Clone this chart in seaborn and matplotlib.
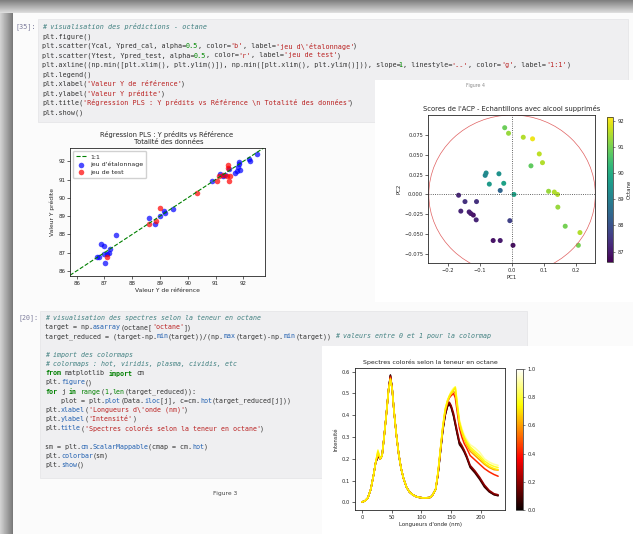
import re
import matplotlib
matplotlib.use("Agg")
import matplotlib.pyplot as plt
from matplotlib import cm
from matplotlib.patches import Rectangle, Ellipse
from matplotlib.colors import Normalize
import numpy as np
import seaborn as sns

# ---- Regression PLS : reference vs predit
ycal_ref = [86.72, 86.80, 86.89, 86.98, 86.98, 87.01, 87.10, 87.18, 87.20, 87.42,
            88.60, 88.83, 89.00, 89.13, 89.17, 89.45, 90.86, 91.16, 91.26, 91.34,
            91.47, 91.70, 91.76, 91.81, 91.83, 91.86, 91.88, 92.22, 92.24, 92.48]
ycal_pred = [86.77, 86.77, 87.45, 87.38, 86.90, 86.42, 86.90, 86.97, 87.19, 87.96,
             88.92, 88.57, 89.03, 89.28, 89.19, 89.38, 90.90, 91.30, 91.17, 91.27,
             91.58, 91.36, 91.45, 91.71, 91.87, 91.96, 91.54, 92.11, 92.00, 92.40]
ytest_ref = [87.10, 88.62, 88.86, 89.00, 90.32, 91.04, 91.14, 91.26, 91.40, 91.45,
             91.45, 91.47, 91.52]
ytest_pred = [86.77, 88.57, 88.75, 89.47, 90.28, 90.95, 91.21, 91.27, 91.17, 91.78,
              91.63, 90.94, 91.17]

# ---- Scores de l'ACP
pc1 = [-0.023, -0.011, 0.035, 0.064, 0.085, 0.095, 0.059, -0.081, -0.084, -0.041,
       -0.026, -0.071, -0.037, 0.006, 0.114, 0.132, 0.142, 0.143, 0.166, 0.212,
       0.207, -0.167, -0.147, -0.111, -0.160, -0.134, -0.129, -0.121, -0.112, -0.007,
       -0.059, -0.037, 0.003]
pc2 = [0.084, 0.077, 0.072, 0.070, 0.051, 0.040, 0.036, 0.027, 0.024, 0.026,
       0.014, 0.013, 0.005, 0.000, 0.004, 0.003, 0.000, -0.016, -0.040, -0.048,
       -0.064, -0.001, -0.009, -0.009, -0.021, -0.022, -0.024, -0.026, -0.032, -0.033,
       -0.058, -0.058, -0.064]
octane_acp = [90.9, 91.3, 91.5, 92.0, 91.6, 91.5, 90.8, 89.3, 89.2, 89.4,
              89.8, 89.6, 88.4, 89.8, 91.3, 91.5, 91.5, 91.3, 91.0, 91.5,
              91.0, 87.2, 87.4, 87.4, 87.2, 87.1, 87.0, 86.9, 87.2, 87.7,
              86.9, 87.0, 86.8]

# ---- Spectres colores selon la teneur en octane
wl_left = [0, 5, 10, 15, 20, 23, 27, 31, 34, 37, 41, 45, 48, 51, 54, 58, 62, 66,
           70, 75, 80, 85, 90, 96, 102, 108, 114, 118, 121]
int_left = [0.002, 0.006, 0.02, 0.06, 0.13, 0.18, 0.225, 0.20, 0.215, 0.29, 0.40,
            0.52, 0.575, 0.52, 0.42, 0.31, 0.22, 0.155, 0.11, 0.07, 0.048, 0.036,
            0.028, 0.023, 0.021, 0.021, 0.022, 0.030, 0.045]
wl_right = [124, 128, 132, 136, 140, 144, 147, 150, 154, 157, 160, 164, 168, 172,
            176, 182, 190, 198, 206, 214, 222, 229]
target_reduced = [0.0, 0.08, 0.2, 0.42, 0.6, 0.72, 0.78, 0.9]
shoulder = [0.210, 0.212, 0.215, 0.220, 0.228, 0.232, 0.238, 0.242]
peak = [0.585, 0.583, 0.580, 0.575, 0.570, 0.566, 0.562, 0.558]
int_right = [
    [0.06, 0.13, 0.23, 0.33, 0.40, 0.445, 0.455, 0.44, 0.40, 0.36, 0.32, 0.27, 0.255, 0.235, 0.21, 0.165, 0.14, 0.11, 0.075, 0.05, 0.036, 0.032],
    [0.06, 0.13, 0.23, 0.33, 0.40, 0.44, 0.45, 0.435, 0.395, 0.355, 0.315, 0.265, 0.25, 0.23, 0.205, 0.16, 0.135, 0.105, 0.07, 0.048, 0.035, 0.030],
    [0.06, 0.13, 0.235, 0.335, 0.405, 0.45, 0.46, 0.445, 0.41, 0.37, 0.33, 0.28, 0.262, 0.24, 0.215, 0.17, 0.145, 0.115, 0.08, 0.055, 0.04, 0.035],
    [0.06, 0.135, 0.24, 0.34, 0.415, 0.46, 0.48, 0.49, 0.50, 0.48, 0.42, 0.34, 0.30, 0.27, 0.25, 0.215, 0.195, 0.175, 0.155, 0.14, 0.128, 0.12],
    [0.06, 0.135, 0.24, 0.345, 0.42, 0.465, 0.485, 0.50, 0.51, 0.50, 0.44, 0.36, 0.32, 0.29, 0.265, 0.235, 0.215, 0.195, 0.175, 0.16, 0.15, 0.148],
    [0.06, 0.14, 0.24, 0.345, 0.425, 0.465, 0.485, 0.50, 0.515, 0.525, 0.45, 0.365, 0.325, 0.295, 0.272, 0.245, 0.225, 0.205, 0.18, 0.165, 0.155, 0.150],
    [0.06, 0.14, 0.245, 0.35, 0.43, 0.47, 0.49, 0.505, 0.52, 0.53, 0.46, 0.37, 0.33, 0.30, 0.28, 0.255, 0.235, 0.215, 0.19, 0.175, 0.165, 0.160],
    [0.06, 0.14, 0.245, 0.35, 0.43, 0.47, 0.49, 0.51, 0.525, 0.53, 0.47, 0.38, 0.34, 0.31, 0.29, 0.265, 0.25, 0.23, 0.20, 0.185, 0.175, 0.170],
]
draw_order = [7, 0, 1, 2, 3, 4, 6, 5]

# ---- texte des cellules du notebook
code1 = [
    "# visualisation des prédictions - octane",
    "plt.figure()",
    "plt.scatter(Ycal, Ypred_cal, alpha=0.5, color='b', label='jeu d\\'étalonnage')",
    "plt.scatter(Ytest, Ypred_test, alpha=0.5, color='r', label='jeu de test')",
    "plt.axline((np.min([plt.xlim(), plt.ylim()]), np.min([plt.xlim(), plt.ylim()])), slope=1, linestyle='--', color='g', label='1:1')",
    "plt.legend()",
    "plt.xlabel('Valeur Y de référence')",
    "plt.ylabel('Valeur Y prédite')",
    "plt.title('Régression PLS : Y prédits vs Référence \\n Totalité des données')",
    "plt.show()",
]
code2 = [
    "# visualisation des spectres selon la teneur en octane",
    "target = np.asarray(octane['octane'])",
    "target_reduced = (target-np.min(target))/(np.max(target)-np.min(target)) # valeurs entre 0 et 1 pour la colormap",
    "",
    "# import des colormaps",
    "# colormaps : hot, viridis, plasma, cividis, etc",
    "from matplotlib import cm",
    "plt.figure()",
    "for j in range(1,len(target_reduced)):",
    "    plot = plt.plot(Data.iloc[j], c=cm.hot(target_reduced[j]))",
    "plt.xlabel('Longueurs d\\'onde (nm)')",
    "plt.ylabel('Intensité')",
    "plt.title('Spectres colorés selon la teneur en octane')",
    "",
    "sm = plt.cm.ScalarMappable(cmap = cm.hot)",
    "plt.colorbar(sm)",
    "plt.show()",
]

sns.set_style("ticks")
plt.rcParams['font.family'] = ['DejaVu Sans']
plt.rcParams['axes.linewidth'] = 0.6
plt.rcParams['xtick.major.size'] = 2
plt.rcParams['ytick.major.size'] = 2
plt.rcParams['xtick.major.width'] = 0.5
plt.rcParams['ytick.major.width'] = 0.5
plt.rcParams['xtick.major.pad'] = 1.5
plt.rcParams['ytick.major.pad'] = 1.5

W, H = 633, 534
fig = plt.figure(figsize=(W / 100, H / 100), dpi=100)
fig.patch.set_facecolor('#fbfbfb')

# fond : page, ombres, cellules de code (coordonnees en pixels)
bg = fig.add_axes([0, 0, 1, 1], zorder=-10)
bg.imshow(np.linspace(0.5, 0.86, 13).reshape(-1, 1), extent=(0, W, 13, 0),
          cmap='gray', vmin=0, vmax=1, aspect='auto')
bg.imshow(np.linspace(0.82, 0.48, 13).reshape(1, -1), extent=(0, 13, H, 13),
          cmap='gray', vmin=0, vmax=1, aspect='auto')
bg.add_patch(Rectangle((38, 19), 590, 103, fc='#efeff1', ec='#e4e4e6', lw=0.5))
bg.add_patch(Rectangle((375, 80), 258, 222, fc='white', ec='none'))
bg.add_patch(Rectangle((40, 311), 487, 167, fc='#efeff1', ec='#e4e4e6', lw=0.5))
bg.add_patch(Rectangle((322, 346), 311, 188, fc='white', ec='none'))
bg.set_xlim(0, W)
bg.set_ylim(H, 0)
bg.axis('off')

tok = re.compile(r"(#.*$)|('(?:\\'|[^'])*')|(\b(?:for|in|from|import)\b)|"
                 r"(\b(?:range|len)\b)|(\.[A-Za-z_]\w*)|(\b\d+(?:\.\d+)?\b)")
base = ('#333333', 'normal', 'normal')
styles = {1: ('#408080', 'italic', 'normal'), 2: ('#ba2121', 'normal', 'normal'),
          3: ('#008000', 'normal', 'bold'), 4: ('#008000', 'normal', 'normal'),
          6: ('#008800', 'normal', 'normal')}


def code_cell(lines, prompt, x0, y0, dy, fs, attr_color):
    cw = fs * 100 / 72 * 0.602   # avance d'un caractere DejaVu Sans Mono
    bg.text(x0 - 6, y0, prompt, fontsize=fs, family='DejaVu Sans Mono',
            color='#7a7a9a', ha='right', va='center')
    for n, line in enumerate(lines):
        y = y0 + n * dy
        look = [base] * len(line)
        for m in tok.finditer(line):
            g = m.lastindex
            if g == 5:
                st = (attr_color, 'normal', 'normal')
                rng = range(m.start() + 1, m.end())
            else:
                st = styles[g]
                rng = range(m.start(), m.end())
            for i in rng:
                look[i] = st
        # morceaux consecutifs de meme style, poses sur la grille mono
        i = 0
        while i < len(line):
            j = i
            while j < len(line) and look[j] == look[i]:
                j += 1
            seg = line[i:j]
            if seg.strip():
                lead = len(seg) - len(seg.lstrip())
                col, style, weight = look[i]
                bg.text(x0 + (i + lead) * cw, y, seg.strip(), fontsize=fs,
                        family='DejaVu Sans Mono', color=col, style=style,
                        weight=weight, va='center', ha='left')
            i = j


code_cell(code1, "[35]:", 42, 27, 9.5, 4.9, '#333333')
code_cell(code2, "[20]:", 45, 318, 9.2, 4.75, '#1f5fb0')

bg.text(475, 86, "Figure 4", fontsize=3.4, color='#8a8a8a', ha='center', va='center')
bg.text(225, 493, "Figure 3", fontsize=4.3, color='#444444', ha='center', va='center')


def px_axes(x0, y0, x1, y1):
    return fig.add_axes([x0 / W, 1 - y1 / H, (x1 - x0) / W, (y1 - y0) / H])


# ---- Figure PLS
ax1 = px_axes(70, 148, 265, 276)
sns.scatterplot(x=ycal_ref, y=ycal_pred, color='b', alpha=0.7, s=16, linewidth=0,
                label="jeu d'étalonnage", ax=ax1)
sns.scatterplot(x=ytest_ref, y=ytest_pred, color='r', alpha=0.7, s=16, linewidth=0,
                label='jeu de test', ax=ax1)
ax1.axline((86, 86), slope=1, linestyle='--', color='g', lw=0.8, label='1:1')
ax1.set_xlim(85.76, 92.78)
ax1.set_ylim(85.72, 92.73)
ax1.set_xticks([86, 87, 88, 89, 90, 91, 92])
ax1.set_yticks([86, 87, 88, 89, 90, 91, 92])
ax1.tick_params(labelsize=4)
ax1.set_xlabel('Valeur Y de référence', fontsize=4.3, labelpad=1.5)
ax1.set_ylabel('Valeur Y prédite', fontsize=4.3, labelpad=2)
ax1.set_title('Régression PLS : Y prédits vs Référence \n Totalité des données',
              fontsize=4.9, pad=3, linespacing=1.1)
h, l = ax1.get_legend_handles_labels()
order = [l.index('1:1'), l.index("jeu d'étalonnage"), l.index('jeu de test')]
ax1.legend([h[i] for i in order], [l[i] for i in order], loc='upper left',
           fontsize=4.5, handlelength=1.6, borderpad=0.5, labelspacing=0.35,
           handletextpad=0.6, frameon=True, framealpha=0.9, edgecolor='#cccccc',
           fancybox=True)

# ---- Figure ACP
ax2 = px_axes(428, 115, 595, 263)
sns.scatterplot(x=pc1, y=pc2, hue=octane_acp, palette='viridis',
                hue_norm=(86.6, 92.15), s=13, linewidth=0, legend=False, ax=ax2)
ax2.axhline(0, color='#333333', ls=':', lw=0.6)
ax2.axvline(0, color='#333333', ls=':', lw=0.6)
ax2.add_patch(Ellipse((0, 0), 0.52, 0.2, fill=False, ec='#e06060', lw=0.5))
ax2.set_xlim(-0.2625, 0.259)
ax2.set_ylim(-0.0863, 0.1)
ax2.set_xticks([-0.2, -0.1, 0.0, 0.1, 0.2])
ax2.set_yticks([-0.075, -0.05, -0.025, 0.0, 0.025, 0.05, 0.075])
ax2.set_xticklabels(['−0.2', '−0.1', '0.0', '0.1', '0.2'])
ax2.set_yticklabels(['−0.075', '−0.050', '−0.025', '0.000', '0.025', '0.050', '0.075'])
ax2.tick_params(labelsize=3.7)
ax2.set_xlabel('PC1', fontsize=3.9, labelpad=1.5)
ax2.set_ylabel('PC2', fontsize=3.9, labelpad=2)
ax2.set_title("Scores de l'ACP - Echantillons avec alcool supprimés", fontsize=4.9, pad=3)
cax2 = px_axes(607, 117, 613, 262)
sm2 = plt.cm.ScalarMappable(cmap='viridis', norm=Normalize(86.6, 92.15))
cb2 = fig.colorbar(sm2, cax=cax2)
cb2.set_ticks([87, 88, 89, 90, 91, 92])
cb2.ax.tick_params(labelsize=3.7, length=1.5, width=0.4)
cb2.outline.set_linewidth(0.5)
cb2.set_label('Octane', fontsize=3.9, labelpad=2)

# ---- Figure spectres
ax3 = px_axes(355, 368, 505, 510)
for k in draw_order:
    y_left = list(int_left)
    y_left[6] = shoulder[k]
    y_left[12] = peak[k]
    sns.lineplot(x=wl_left + wl_right, y=y_left + int_right[k],
                 color=cm.hot(target_reduced[k]), lw=1.1, sort=False, ax=ax3)
ax3.set_xlim(-11.5, 240.5)
ax3.set_ylim(-0.035, 0.617)
ax3.set_xticks([0, 50, 100, 150, 200])
ax3.set_yticks([0.0, 0.1, 0.2, 0.3, 0.4, 0.5, 0.6])
ax3.tick_params(labelsize=3.7)
ax3.set_xlabel("Longueurs d'onde (nm)", fontsize=3.9, labelpad=1.5)
ax3.set_ylabel('Intensité', fontsize=3.9, labelpad=2)
ax3.set_title('Spectres colorés selon la teneur en octane', fontsize=4.5, pad=3)
cax3 = px_axes(516, 369, 523, 510)
sm3 = plt.cm.ScalarMappable(cmap=cm.hot, norm=Normalize(0, 1))
cb3 = fig.colorbar(sm3, cax=cax3)
cb3.set_ticks([0.0, 0.2, 0.4, 0.6, 0.8, 1.0])
cb3.ax.tick_params(labelsize=3.7, length=1.5, width=0.4)
cb3.outline.set_linewidth(0.5)

fig.savefig('out.png', dpi=100)
